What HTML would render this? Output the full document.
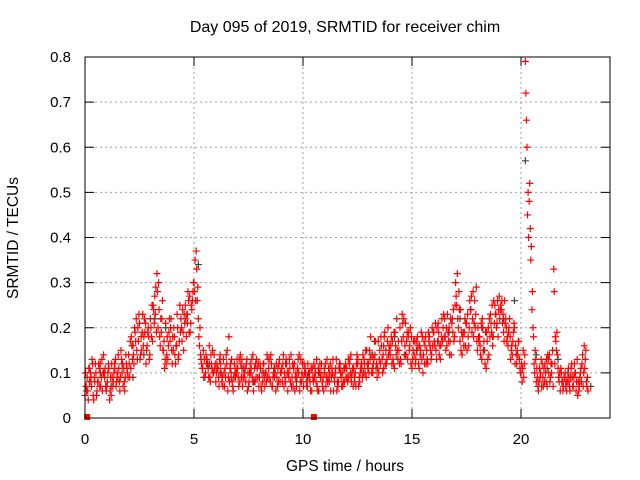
<!DOCTYPE html>
<html><head><meta charset="utf-8"><style>
body{margin:0;background:#fff;width:640px;height:480px;overflow:hidden}
svg{display:block;font-family:"Liberation Sans",sans-serif}
</style></head><body>
<svg id="chart" width="640" height="480">
<text x="345" y="32" text-anchor="middle" font-size="16">Day 095 of 2019, SRMTID for receiver chim</text>
<text x="345" y="471" text-anchor="middle" font-size="15.5">GPS time / hours</text>
<text x="0" y="0" transform="translate(18,238) rotate(-90)" text-anchor="middle" font-size="15.5">SRMTID / TECUs</text>
<g id="grid"></g>
<g id="ticks"></g>
<g id="marks"></g>
<rect x="85" y="57" width="525" height="361" fill="none" stroke="#000" stroke-width="1"/>
</svg>
<script>
const xTicks=[0,5,10,15,20];
const yTicks=[0,0.1,0.2,0.3,0.4,0.5,0.6,0.7,0.8];
const yTickLabels=["0","0.1","0.2","0.3","0.4","0.5","0.6","0.7","0.8"];
const redA=[5,9,11,7,4,10,8,12,6,9,7,11,5,8,13,9,6,10,8,12,
14,11,16,19,13,21,15,18,12,20,
22,17,27,32,24,19,15,21,13,17,
12,18,16,14,22,19,25,21,27,24,
30,37,22,14,11,9,13,16,12,10,
8,11,14,9,7,12,18,10,6,9,
11,8,13,9,12,7,10,14,8,11,
9,6,12,10,13,8,7,11,9,12,
10,14,8,6,11,9,12,7,10,13,
9,11,7,10,6,12,8,11,9,7,
10,13,8,9,6,11,7,12,10,8,
11,9,14,7,10,12,8,11,13,9,
12,18,10,14,9,13,16,11,15,20,
14,17,11,22,15,12,18,21,13,16,
11,14,17,12,15,10,16,13,18,14,
19,15,21,13,17,22,16,20,14,24,
30,22,17,14,19,21,16,24,28,20,
15,18,13,17,11,20,23,16,25,21,
27,24,19,22,16,18,14,20,12,17,
10,15,79,45,52,24,12,8,6,10,
9,12,7,14,10,33,17,11,6,8,
9,6,8,11,7,10,5,9,12,16,8];
const redB=[7,4,10,12,8,6,11,9,14,7,10,6,9,12,8,11,15,7,9,10,
9,16,12,22,17,14,23,19,16,13,
18,24,29,20,16,26,11,14,19,22,
15,12,20,25,17,23,18,26,21,28,
35,26,16,12,9,14,11,8,15,11,
12,7,10,13,9,6,11,8,12,10,
7,12,9,11,6,10,13,8,9,12,
11,8,7,14,9,12,10,6,11,8,
8,10,12,9,14,7,9,11,6,10,
12,8,10,6,9,11,7,10,12,6,
7,9,12,10,8,6,11,9,8,12,
8,13,10,9,12,7,11,14,10,12,
15,10,13,11,17,12,10,19,13,16,
18,12,16,13,20,23,14,17,19,12,
15,12,18,16,13,17,12,19,15,16,
16,20,14,18,23,15,19,17,22,18,
25,28,15,19,16,23,26,19,21,29,
18,14,20,12,17,22,19,26,23,18,
24,21,26,17,20,15,19,16,14,11,
8,12,66,40,35,20,15,9,11,7,
11,8,13,9,15,12,19,8,10,7,
7,10,6,9,12,8,6,11,7,13,9];
const redC=[10,6,8,13,9,5,12,7,10,11,8,4,12,10,7,14,9,12,6,11,
12,18,14,17,20,13,19,22,15,18,
20,25,23,28,18,22,17,12,16,20,
18,14,23,17,20,15,22,28,19,26,
28,33,18,13,15,10,12,9,11,14,
10,9,12,7,11,15,8,13,9,11,
9,14,7,10,13,8,11,6,12,9,
12,10,9,8,11,14,9,10,7,13,
11,7,13,10,8,12,6,9,14,8,
7,10,12,8,11,9,13,6,10,9,
12,8,10,11,9,13,8,10,7,11,
9,12,8,11,7,13,10,9,12,15,
10,14,12,17,11,15,13,18,12,14,
16,13,19,15,12,17,22,14,18,20,
13,17,15,11,19,14,18,12,16,20,
17,13,19,16,20,18,23,14,21,17,
27,20,24,18,22,15,20,27,18,23,
20,16,22,15,19,14,21,18,23,26,
22,26,17,20,19,13,17,12,15,13,
12,9,72,50,42,28,10,11,8,13,
7,10,14,8,12,28,15,9,11,6,
10,8,7,12,9,6,8,10,14,11,7];
const redD=[6,11,9,5,12,8,7,13,10,6,12,9,7,11,10,8,13,11,14,9,
17,13,20,15,23,18,16,21,19,14,
25,21,19,30,22,15,13,18,22,15,
20,16,13,19,24,21,23,19,25,30,
26,29,20,11,13,12,9,14,10,12,
11,13,8,10,14,9,12,7,10,13,
13,9,11,8,10,12,9,11,13,7,
7,12,10,9,13,7,11,12,8,10,
12,9,10,13,7,11,10,13,8,12,
10,7,9,11,8,10,6,12,8,11,
9,11,6,13,10,8,12,7,11,9,
13,10,11,8,14,9,12,10,15,11,
13,11,17,12,10,18,14,12,17,15,
12,19,14,17,13,21,16,19,15,18,
17,13,16,14,18,12,15,17,13,19,
21,17,16,22,18,20,17,22,19,25,
32,24,19,16,21,18,24,22,26,17,
17,21,15,19,13,18,25,21,20,24,
25,23,21,18,22,16,21,14,17,10,
11,14,60,48,38,18,13,7,9,12,
8,13,10,12,7,18,14,10,8,9,
8,11,9,7,10,13,7,8,10,15,6];
const grey=[8,10,7,12,9,14,22,20,16,23,34,12,10,9,11,8,10,9,12,8,9,10,8,11,9,12,14,16,18,14,15,13,17,19,22,24,20,18,22,26,57,14,11,13,9,8,7];
const zeroTimes=[0.1,10.5];

const NS="http://www.w3.org/2000/svg";
const X=t=>85+t*21.8;
const Y=v=>418-v*451.25;
function mk(tag,attrs,parent){const e=document.createElementNS(NS,tag);for(const k in attrs)e.setAttribute(k,attrs[k]);parent.appendChild(e);return e;}
const grid=document.getElementById('grid'),ticks=document.getElementById('ticks'),marks=document.getElementById('marks');
xTicks.forEach(t=>{
  if(t>0){const g=mk('line',{x1:X(t),x2:X(t),y1:57,y2:418,stroke:'#a0a0a0','stroke-dasharray':'2,3'},grid);
  
  }
  mk('line',{x1:X(t),x2:X(t),y1:418,y2:409,stroke:'#000'},ticks);
  mk('line',{x1:X(t),x2:X(t),y1:57,y2:66,stroke:'#000'},ticks);
  const l=mk('text',{x:X(t),y:444,'text-anchor':'middle','font-size':15},ticks);l.textContent=t;
  
  
});
yTicks.forEach((v,i)=>{
  if(v>0){const g=mk('line',{x1:85,x2:610,y1:Y(v),y2:Y(v),stroke:'#a0a0a0','stroke-dasharray':'2,3'},grid);
  
  }
  mk('line',{x1:85,x2:94,y1:Y(v),y2:Y(v),stroke:'#000'},ticks);
  mk('line',{x1:610,x2:601,y1:Y(v),y2:Y(v),stroke:'#000'},ticks);
  const l=mk('text',{x:71,y:Y(v)+5,'text-anchor':'end','font-size':15},ticks);l.textContent=yTickLabels[i];
  
  
});
function plus(t,v,col,name){
  const x=X(t),y=Y(v);
  const p=mk('path',{d:`M${x-3.5},${y}H${x+3.5}M${x},${y-3.5}V${y+3.5}`,stroke:col,'stroke-width':1.2,fill:'none'},marks);
  
  
}
grey.forEach((v,i)=>plus(i*0.5+0.2,v/100,'#404040','grey-point'));
redA.forEach((v,i)=>plus(i*0.1,v/100,'#ff0000','red-point'));
redC.forEach((v,i)=>plus(i*0.1+0.025,v/100,'#ff0000','red-point'));
redB.forEach((v,i)=>plus(i*0.1+0.05,v/100,'#ff0000','red-point'));
redD.forEach((v,i)=>plus(i*0.1+0.075,v/100,'#ff0000','red-point'));
zeroTimes.forEach(t=>{
  const r=mk('rect',{x:X(t)-3,y:414,width:6,height:6,fill:'#ff0000'},marks);
  
  
});
</script>
</body></html>
